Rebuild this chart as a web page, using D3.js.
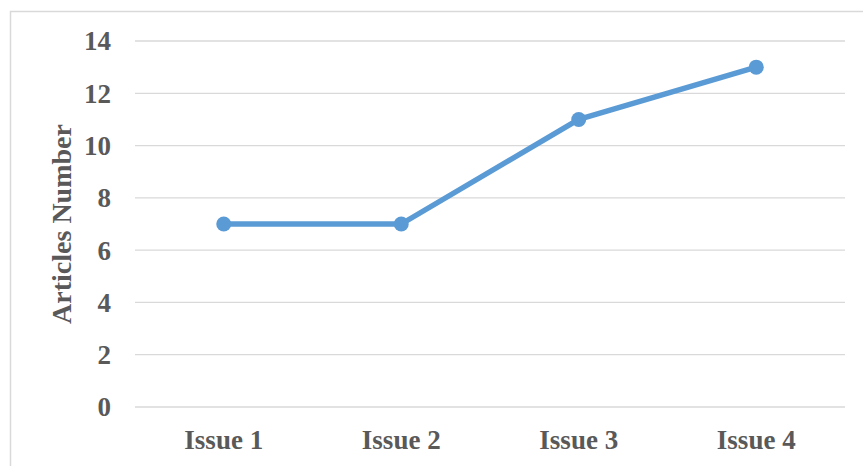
<!DOCTYPE html>
<html>
<head>
<meta charset="utf-8">
<script src="https://cdn.jsdelivr.net/npm/d3@7"></script>
<style>
  body { margin: 0; background: #fff; }
  text { font-family: "Liberation Serif", "Times New Roman", serif; font-weight: bold; fill: #595959; }
</style>
</head>
<body>
<svg id="chart" width="863" height="466"></svg>
<script>
// data
const issues = ["Issue 1", "Issue 2", "Issue 3", "Issue 4"],
    articles = [7, 7, 11, 13],
    yTicks = [0, 2, 4, 6, 8, 10, 12, 14];

const svg = d3.select("#chart"),
    margin = {top: 41, right: 18, bottom: 59, left: 135},
    width = +svg.attr("width"),
    height = +svg.attr("height"),
    lineColor = "#5b9bd5";

// chart border
svg.append("rect")
    .attr("x", 10.5).attr("y", 11.5)
    .attr("width", width).attr("height", height)
    .attr("fill", "none")
    .attr("stroke", "#d9d9d9")
    .attr("stroke-width", 1.5);

const x = d3.scaleBand()
    .domain(issues)
    .range([margin.left, width - margin.right]);

const y = d3.scaleLinear()
    .domain([0, 14])
    .range([height - margin.bottom, margin.top]);

// gridlines
svg.append("g")
  .selectAll("line")
    .data(yTicks)
  .enter().append("line")
    .attr("x1", margin.left).attr("x2", width - margin.right)
    .attr("y1", d => y(d)).attr("y2", d => y(d))
    .attr("stroke", "#d9d9d9")
    .attr("stroke-width", 1.3);

// y tick labels
svg.append("g")
  .selectAll("text")
    .data(yTicks)
  .enter().append("text")
    .attr("x", 111)
    .attr("y", d => y(d))
    .attr("dy", "0.35em")
    .attr("text-anchor", "end")
    .style("font-size", "27px")
    .text(d => d);

// x labels
svg.append("g")
  .selectAll("text")
    .data(issues)
  .enter().append("text")
    .attr("x", d => x(d) + x.bandwidth() / 2)
    .attr("y", 449)
    .attr("text-anchor", "middle")
    .style("font-size", "27px")
    .text(d => d);

// y axis title
svg.append("text")
    .attr("transform", "translate(71," + (y(0) + y(14)) / 2 + ") rotate(-90)")
    .attr("text-anchor", "middle")
    .style("font-size", "28px")
    .text("Articles Number");

// line + markers
const line = d3.line()
    .x((d, i) => x(issues[i]) + x.bandwidth() / 2)
    .y(d => y(d));

svg.append("path")
    .datum(articles)
    .attr("d", line)
    .attr("fill", "none")
    .attr("stroke", lineColor)
    .attr("stroke-width", 5.5)
    .attr("stroke-linejoin", "round")
    .attr("stroke-linecap", "round");

svg.append("g")
  .selectAll("circle")
    .data(articles)
  .enter().append("circle")
    .attr("cx", (d, i) => x(issues[i]) + x.bandwidth() / 2)
    .attr("cy", d => y(d))
    .attr("r", 7.5)
    .attr("fill", lineColor);
</script>
</body>
</html>
